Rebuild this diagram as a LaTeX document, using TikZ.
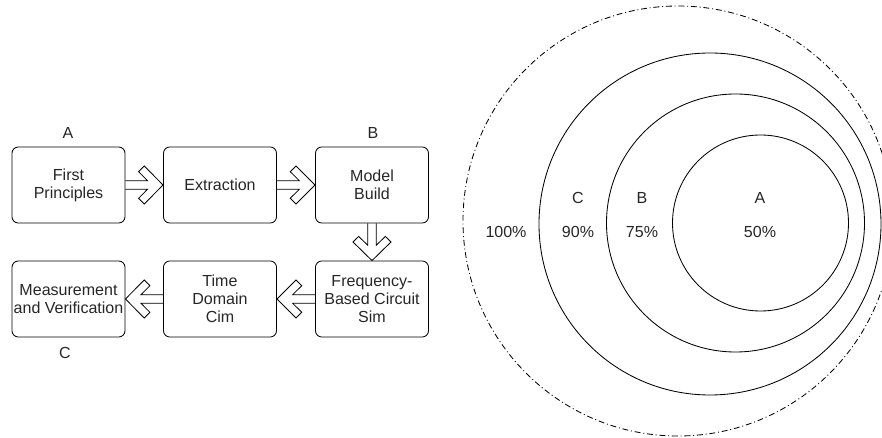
\documentclass[tikz,border=0pt]{standalone}
\usepackage{fontspec}
\setmainfont{Liberation Sans}
\usetikzlibrary{calc}

\begin{document}
\begin{tikzpicture}[x=0.025cm,y=-0.025cm,
    every node/.style={font=\fontsize{11.4}{12.8}\selectfont, text=black!85},
    stage/.style={draw=black, line width=0.6pt, rounded corners=4.5pt,
        minimum width=2.825cm, minimum height=1.9cm, inner sep=1pt, align=center},
    flowarrow/.style={line width=0.6pt, line join=miter, to path={
        ($(\tikztostart)!3.06pt!90:(\tikztotarget)$)
        -- ($(\tikztostart)!0.587!(\tikztotarget)!3.06pt!90:(\tikztotarget)$)
        -- ($(\tikztostart)!0.35!(\tikztotarget)!9.46pt!90:(\tikztotarget)$)
        -- ($(\tikztostart)!0.5!(\tikztotarget)!13.5pt!90:(\tikztotarget)$)
        -- (\tikztotarget)
        -- ($(\tikztostart)!0.5!(\tikztotarget)!13.5pt!-90:(\tikztotarget)$)
        -- ($(\tikztostart)!0.35!(\tikztotarget)!9.46pt!-90:(\tikztotarget)$)
        -- ($(\tikztostart)!0.587!(\tikztotarget)!3.06pt!-90:(\tikztotarget)$)
        -- ($(\tikztostart)!3.06pt!-90:(\tikztotarget)$)}},
    ring/.style={line width=0.6pt}]

    \useasboundingbox (0,0) rectangle (882,438);
    \clip (0,0) rectangle (882,438);

    % Flow of stages
    \node[stage] (fp) at (68.5,185) {First\\Principles};
    \node[stage] (ex) at (220,185) {Extraction};
    \node[stage] (mb) at (372,185) {Model\\Build};
    \node[stage] (fs) at (372,299) {Frequency-\\Based Circuit\\Sim};
    \node[stage] (td) at (220,299) {Time\\Domain\\Cim};
    \node[stage] (mv) at (68.5,299) {Measurement\\and Verification};

    \draw[flowarrow] (fp.east) to (ex.west);
    \draw[flowarrow] (ex.east) to (mb.west);
    \draw[flowarrow] (mb.south) to (fs.north);
    \draw[flowarrow] (fs.west) to (td.east);
    \draw[flowarrow] (td.west) to (mv.east);

    % Stage labels
    \node (la) at (68,133) {A};
    \node (lb) at (373,133) {B};
    \node (lc) at (65,353) {C};

    % Nested circles
    \draw[ring, dash pattern=on 4.2pt off 2pt on 0.7pt off 2pt] (678,221) circle[radius=215];
    \draw[ring] (710,224) circle[radius=171];
    \draw[ring] (735.5,223) circle[radius=129];
    \draw[ring] (760.5,223) circle[radius=88];

    % Circle labels
    \node (rc) at (578,198) {C};
    \node (rb) at (642,198) {B};
    \node (ra) at (760,198) {A};
    \node (p100) at (506,232) {100\%};
    \node (p90) at (578,232) {90\%};
    \node (p75) at (642,232) {75\%};
    \node (p50) at (760,232) {50\%};
\end{tikzpicture}
\end{document}
